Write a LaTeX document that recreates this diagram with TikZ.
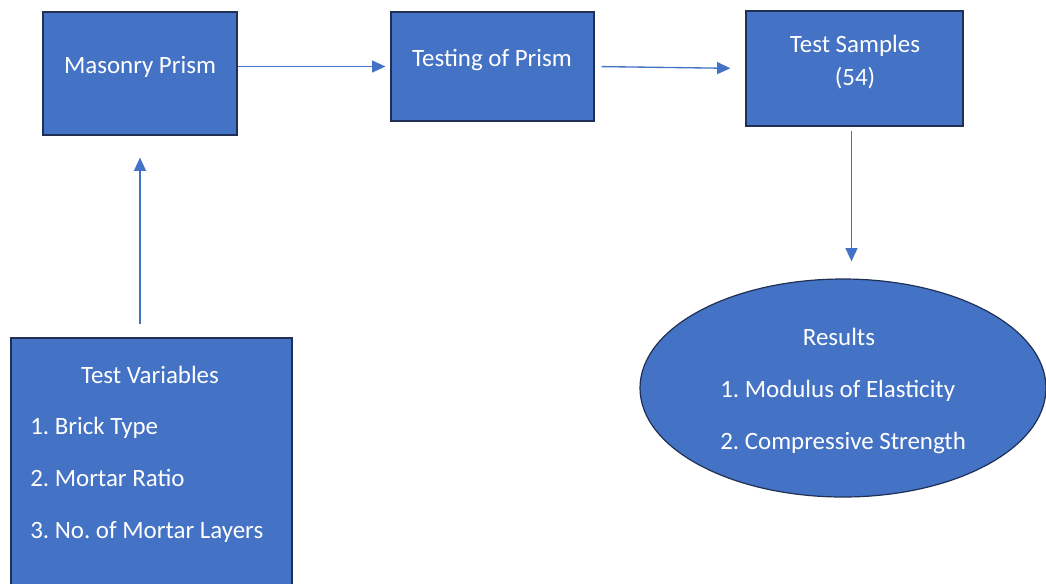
\documentclass[tikz,border=0pt]{standalone}
\usepackage{fontspec}
\setmainfont{Carlito}
\frenchspacing
\usetikzlibrary{arrows.meta,shapes.geometric}

\definecolor{boxfill}{RGB}{68,114,196}
\definecolor{boxline}{RGB}{32,48,84}
\definecolor{flowline}{RGB}{68,114,196}

\tikzset{
  blockbox/.style={draw=boxline,line width=0.9pt,fill=boxfill,inner sep=0pt},
  blocktext/.style={text=white,inner sep=0pt,anchor=base,font=\fontsize{18.7}{22}\selectfont},
  flow/.style={draw=flowline,line width=1pt,-{Triangle[length=10pt,width=9pt]}}
}

\begin{document}
\begin{tikzpicture}[x=0.75pt,y=0.75pt,yscale=-1,xscale=1]
\path[use as bounding box,clip] (0,0) rectangle (1046,583);

%Shape: Rectangle [masonry]
\node (masonry) [blockbox,minimum width=194*0.75pt,minimum height=123*0.75pt] at (140,73.5) {};
%Shape: Rectangle [testing]
\node (testing) [blockbox,minimum width=203*0.75pt,minimum height=109*0.75pt] at (492.5,66.5) {};
%Shape: Rectangle [samples]
\node (samples) [blockbox,minimum width=217*0.75pt,minimum height=115*0.75pt] at (854.5,68.5) {};
%Shape: Rectangle [variables]
\node (variables) [blockbox,minimum width=281*0.75pt,minimum height=270*0.75pt] at (151.5,473) {};
%Shape: Ellipse [results]
\node (results) [blockbox,ellipse,minimum width=406*0.75pt,minimum height=218*0.75pt] at (843,388) {};

% Text Node
\node (masonrytxt) [blocktext] at (140,73.5) {Masonry Prism};
% Text Node
\node (testingtxt) [blocktext] at (492,66) {Testing of Prism};
% Text Node
\node (samplestxt) [blocktext] at (855,52) {Test Samples};
% Text Node
\node (samplesnum) [blocktext] at (855,85) {(54)};
% Text Node
\node (vartitle) [blocktext] at (150,383) {Test Variables};
% Text Node
\node (varone) [blocktext,anchor=base west] at (30,434) {1. Brick Type};
% Text Node
\node (vartwo) [blocktext,anchor=base west] at (30,486) {2. Mortar Ratio};
% Text Node
\node (varthree) [blocktext,anchor=base west] at (30,538) {3. No. of Mortar Layers};
% Text Node
\node (restitle) [blocktext] at (839,345) {Results};
% Text Node
\node (resone) [blocktext,anchor=base west] at (720,397) {1. Modulus of Elasticity};
% Text Node
\node (restwo) [blocktext,anchor=base west] at (720,449) {2. Compressive Strength};

%Straight Lines [connectors]
\draw [flow,shorten >=5*0.75pt] (masonry.east |- testing.west) -- (testing.west);
\draw [flow,shorten <=7*0.75pt,shorten >=15*0.75pt] (testing.east) -- (samples.west);
\draw [flow,shorten <=4*0.75pt,shorten >=17*0.75pt] ([xshift=-3*0.75pt]samples.south) -- ([xshift=-3*0.75pt]samples.south |- results.north);
\draw [flow,shorten <=13*0.75pt,shorten >=22*0.75pt] (variables.north -| masonry.south) -- (masonry.south);

\end{tikzpicture}
\end{document}
